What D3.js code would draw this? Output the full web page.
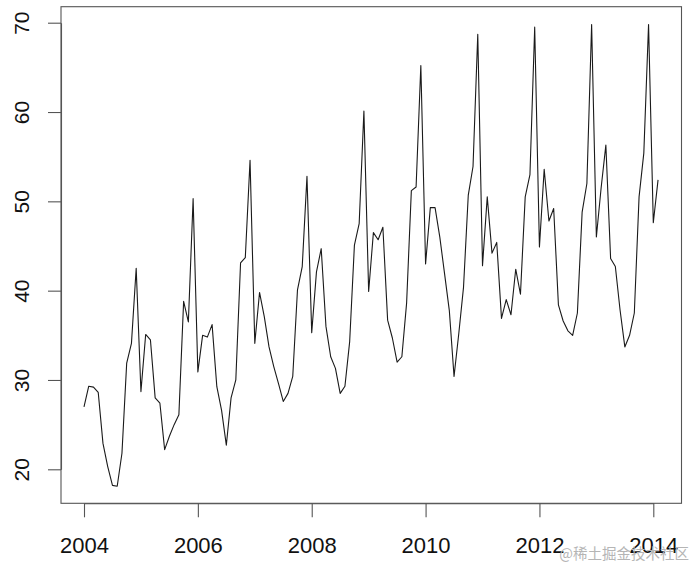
<!DOCTYPE html>
<html>
<head>
<meta charset="utf-8">
<script src="https://cdn.jsdelivr.net/npm/d3@7/dist/d3.min.js"></script>
<style>
  html, body { margin: 0; padding: 0; background: #fff; }
  svg { display: block; }
</style>
</head>
<body>
<svg id="chart" width="694" height="567"></svg>
<script>
// ---- data ----
const startYear = 2004;
const frequency = 12;
const values = [
  27.0, 29.3, 29.2, 28.6, 22.9, 20.3, 18.2, 18.1, 21.8, 31.9, 34.1, 42.5,
  28.7, 35.1, 34.5, 28.0, 27.4, 22.2, 23.7, 25.0, 26.1, 38.8, 36.5, 50.3,
  30.9, 35.0, 34.8, 36.2, 29.25, 26.6, 22.7, 28.0, 30.0, 43.1, 43.7, 54.6,
  34.1, 39.8, 37.1, 33.7, 31.5, 29.6, 27.6, 28.5, 30.4, 40.1, 42.7, 52.8,
  35.3, 42.1, 44.7, 36.0, 32.6, 31.3, 28.5, 29.3, 34.3, 45.1, 47.5, 60.1,
  39.9, 46.5, 45.7, 47.1, 36.7, 34.7, 32.0, 32.6, 38.6, 51.2, 51.6, 65.2,
  43.0, 49.3, 49.3, 46.0, 41.9, 37.8, 30.4, 35.2, 40.4, 50.7, 53.9, 68.7,
  42.8, 50.5, 44.2, 45.4, 36.9, 39.0, 37.3, 42.4, 39.6, 50.5, 53.0, 69.5,
  44.9, 53.6, 47.8, 49.2, 38.4, 36.6, 35.5, 35.0, 37.5, 48.8, 52.0, 69.8,
  46.0, 51.5, 56.3, 43.6, 42.7, 37.8, 33.7, 35.0, 37.5, 50.5, 55.4, 69.8,
  47.6, 52.4
];
const xTicks = [2004, 2006, 2008, 2010, 2012, 2014];
const yTicks = [20, 30, 40, 50, 60, 70];
const watermark = "@稀土掘金技术社区";

// ---- layout ----
const svg = d3.select("#chart");
const box = { left: 61, right: 681.5, top: 6.7, bottom: 503.3 };
const x = d3.scaleLinear().domain([2004, 2014]).range([84, 653.3]);
const y = d3.scaleLinear().domain([20, 70]).range([469.3, 22.7]);
const font = "'Liberation Sans', Arial, Helvetica, sans-serif";

const series = values.map((v, i) => ({ t: startYear + i / frequency, v }));

// plot box
svg.append("rect")
  .attr("x", box.left).attr("y", box.top)
  .attr("width", box.right - box.left).attr("height", box.bottom - box.top)
  .attr("fill", "none").attr("stroke", "#555").attr("stroke-width", 1.1);

// line
svg.append("path")
  .datum(series)
  .attr("fill", "none")
  .attr("stroke", "#1a1a1a")
  .attr("stroke-width", 1.1)
  .attr("stroke-linejoin", "round")
  .attr("d", d3.line().x(d => x(d.t)).y(d => y(d.v)));

// x axis
const xAxis = d3.axisBottom(x).tickValues(xTicks).tickFormat(d3.format("d"))
  .tickSizeInner(14).tickSizeOuter(0).tickPadding(20);
const gx = svg.append("g").attr("transform", `translate(0,${box.bottom})`).call(xAxis);
gx.select(".domain").attr("stroke", "#555").attr("stroke-width", 1.1);
gx.selectAll(".tick line").attr("stroke", "#555").attr("stroke-width", 1.1);
gx.selectAll(".tick text")
  .attr("fill", "#111").attr("font-family", font).attr("font-size", 22)
  .attr("dy", null).attr("y", 49.4);

// y axis
const yAxis = d3.axisLeft(y).tickValues(yTicks).tickFormat(d3.format("d"))
  .tickSizeInner(13).tickSizeOuter(0);
const gy = svg.append("g").attr("transform", `translate(${box.left},0)`).call(yAxis);
gy.select(".domain").attr("stroke", "#555").attr("stroke-width", 1.1);
gy.selectAll(".tick line").attr("stroke", "#555").attr("stroke-width", 1.1);
gy.selectAll(".tick text")
  .attr("fill", "#111").attr("font-family", font).attr("font-size", 21)
  .attr("x", null).attr("dy", null)
  .attr("text-anchor", "middle")
  .attr("transform", `translate(${28.5 - box.left},0) rotate(-90)`);

// watermark
svg.append("text")
  .attr("x", 689).attr("y", 559)
  .attr("text-anchor", "end")
  .attr("font-family", "'Noto Sans CJK SC', sans-serif")
  .attr("font-size", 14.5)
  .attr("fill", "#b5b5b5")
  .text(watermark);
</script>
</body>
</html>
